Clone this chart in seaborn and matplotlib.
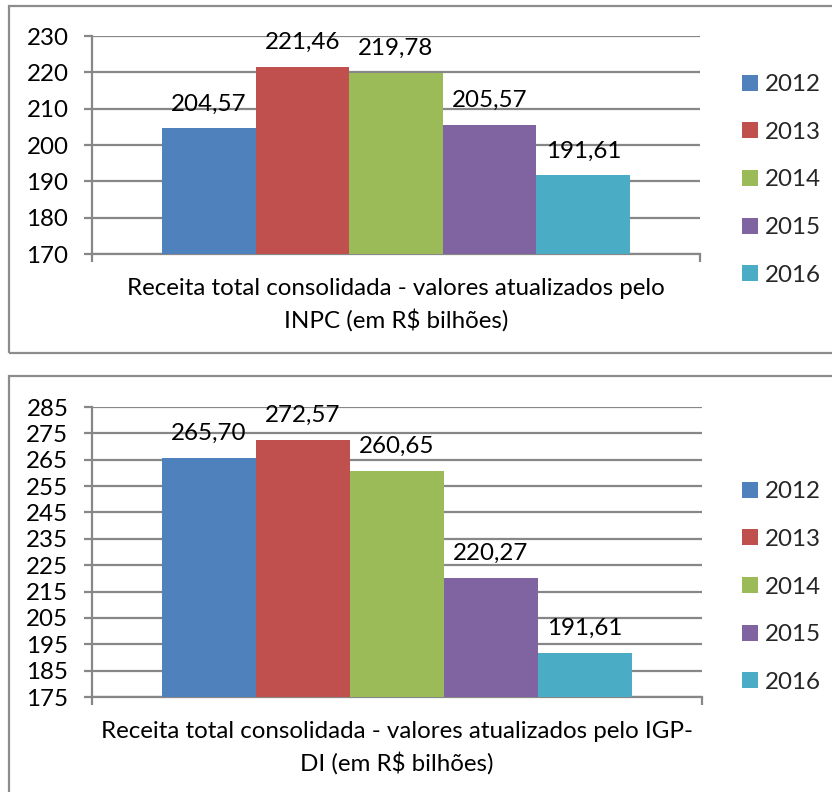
import matplotlib
matplotlib.use("Agg")
import matplotlib.pyplot as plt
from matplotlib.patches import Rectangle, Patch
import seaborn as sns
import pandas as pd

years = ["2012", "2013", "2014", "2015", "2016"]
inpc_values = [204.57, 221.46, 219.78, 205.57, 191.61]
igp_values = [265.70, 272.57, 260.65, 220.27, 191.61]
inpc_label = "Receita total consolidada - valores atualizados pelo\nINPC (em R$ bilhões)"
igp_label = "Receita total consolidada - valores atualizados pelo IGP-\nDI (em R$ bilhões)"
inpc_ticks = [170, 180, 190, 200, 210, 220, 230]
igp_ticks = [175, 185, 195, 205, 215, 225, 235, 245, 255, 265, 275, 285]
colors = ["#4F81BD", "#C0504D", "#9BBB59", "#8064A2", "#4BACC6"]

sns.set_theme(style="white")
plt.rcParams["font.family"] = ["Lato", "DejaVu Sans"]

W, H = 832, 792
fig = plt.figure(figsize=(W / 100, H / 100), dpi=100)
GRID = "#878787"
FS = 17.4


def px_rect(x0, y0, x1, y1):
    return [x0 / W, 1 - y1 / H, (x1 - x0) / W, (y1 - y0) / H]


def panel(box, axbox, values, ticks, xlabel, legend_y):
    # border
    bx0, by0, bx1, by1 = box
    fig.patches.append(Rectangle((bx0 / W, 1 - by1 / H), (bx1 - bx0) / W, (by1 - by0) / H,
                                 transform=fig.transFigure, fill=False,
                                 edgecolor="#8c8c8c", linewidth=1.6, zorder=0))
    ax = fig.add_axes(px_rect(*axbox))
    df = pd.DataFrame({"cat": ["c"] * len(years), "year": years, "val": values})
    sns.barplot(data=df, x="cat", y="val", hue="year", palette=colors, saturation=1,
                width=0.77, linewidth=0, ax=ax, legend=False, zorder=3)
    ax.set_ylim(ticks[0], ticks[-1])
    ax.set_yticks(ticks)
    ax.set_xlim(-0.5, 0.5)
    ax.set_xticks([-0.5, 0.5])
    ax.set_xticklabels([])
    ax.yaxis.grid(True, color=GRID, linewidth=1.6, zorder=0)
    ax.set_axisbelow(True)
    for s in ["top", "right"]:
        ax.spines[s].set_visible(False)
    for s in ["left", "bottom"]:
        ax.spines[s].set_color(GRID)
        ax.spines[s].set_linewidth(1.6)
    ax.tick_params(axis="y", direction="out", length=6, width=1.6, color=GRID,
                   labelsize=FS, pad=11, left=True, labelcolor="#000000")
    ax.tick_params(axis="x", direction="out", length=6, width=1.6, color=GRID, bottom=True)
    ax.set_ylabel("")
    ax.set_xlabel(xlabel, fontsize=FS, color="#000000", labelpad=8, linespacing=1.5)
    for cont, v in zip(ax.containers, values):
        ax.bar_label(cont, labels=[f"{v:.2f}".replace(".", ",")], padding=10,
                     fontsize=FS, color="#000000")
    handles = [Patch(facecolor=c, edgecolor="none") for c in colors]
    fig.legend(handles, years, loc="center left",
               bbox_to_anchor=(742 / W, 1 - legend_y / H), frameon=False,
               fontsize=FS, handlelength=0.65, handleheight=0.65, handletextpad=0.3,
               labelspacing=1.1, borderpad=0, borderaxespad=0)
    return ax


panel((9, 6, 840, 353), (92, 36, 700, 254), inpc_values, inpc_ticks, inpc_label, 180)
panel((9, 376, 840, 800), (92, 407, 702, 697), igp_values, igp_ticks, igp_label, 587)

fig.savefig("out.png", dpi=100)
